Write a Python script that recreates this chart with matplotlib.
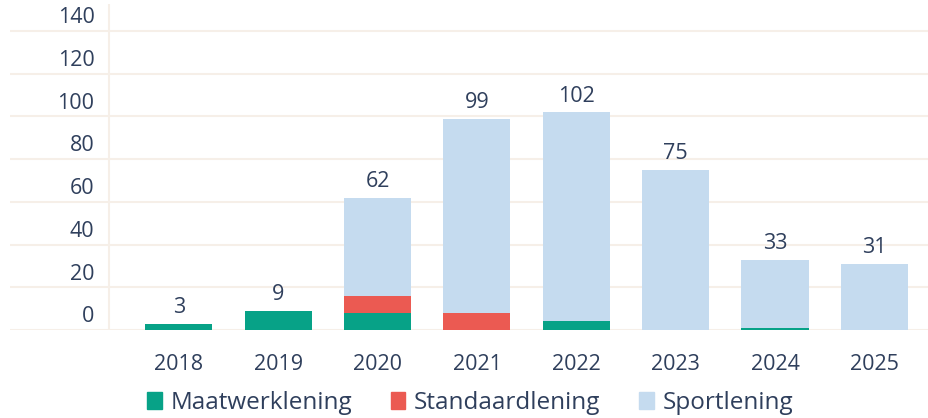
import matplotlib.pyplot as plt
from matplotlib.patches import Patch
import numpy as np

years = ['2018', '2019', '2020', '2021', '2022', '2023', '2024', '2025']
maatwerk = [3, 9, 8, 0, 4, 0, 1, 0]
standaard = [0, 0, 8, 8, 0, 0, 0, 0]
sport = [0, 0, 46, 91, 98, 75, 32, 31]
totals = [3, 9, 62, 99, 102, 75, 33, 31]
yticks = [0, 20, 40, 60, 80, 100, 120, 140]

c_maat = '#07a287'
c_stand = '#eb5a52'
c_sport = '#c5dbef'
c_text = '#2f3f5c'
c_grid = '#f6efe8'

plt.rcParams['font.family'] = ['Open Sans', 'DejaVu Sans']

fig = plt.figure(figsize=(9.29, 4.18), dpi=100)
ax = fig.add_axes([10 / 929, 1 - 330 / 418, 919 / 929, 326 / 418])

x = np.arange(len(years))
w = 0.675
m = np.array(maatwerk)
s = np.array(standaard)
sp = np.array(sport)
ax.bar(x, m, w, color=c_maat, zorder=3)
ax.bar(x, s, w, bottom=m, color=c_stand, zorder=3)
ax.bar(x, sp, w, bottom=m + s, color=c_sport, zorder=3)

for xi, t in zip(x, totals):
    ax.text(xi, t + 2.5, str(t), ha='center', va='bottom', fontsize=15.5, color=c_text)

for v in yticks:
    ax.axhline(v, color=c_grid, lw=1.5, zorder=1)
    ax.text(-0.85, v + 6.2, str(v), ha='right', va='center', fontsize=15.5, color=c_text)

ax.axvline(-0.705, color=c_grid, lw=1.5, zorder=1)

ax.set_xlim(-1.70, 7.55)
ax.set_ylim(0, 152.6)
ax.set_xticks(x)
ax.set_xticklabels(years, fontsize=15.5, color=c_text)
ax.tick_params(axis='x', length=0, pad=17)
ax.set_yticks([])
for sp_ in ax.spines.values():
    sp_.set_visible(False)

handles = [Patch(color=c_maat, label='Maatwerklening'),
           Patch(color=c_stand, label='Standaardlening'),
           Patch(color=c_sport, label='Sportlening')]
leg = fig.legend(handles=handles, loc='center', bbox_to_anchor=(0.506, 1 - 403 / 418),
                 ncol=3, frameon=False, fontsize=17.5, handlelength=0.6, handleheight=0.7,
                 handletextpad=0.35, columnspacing=1.6, labelcolor=c_text)

fig.savefig('out.png', dpi=100)
